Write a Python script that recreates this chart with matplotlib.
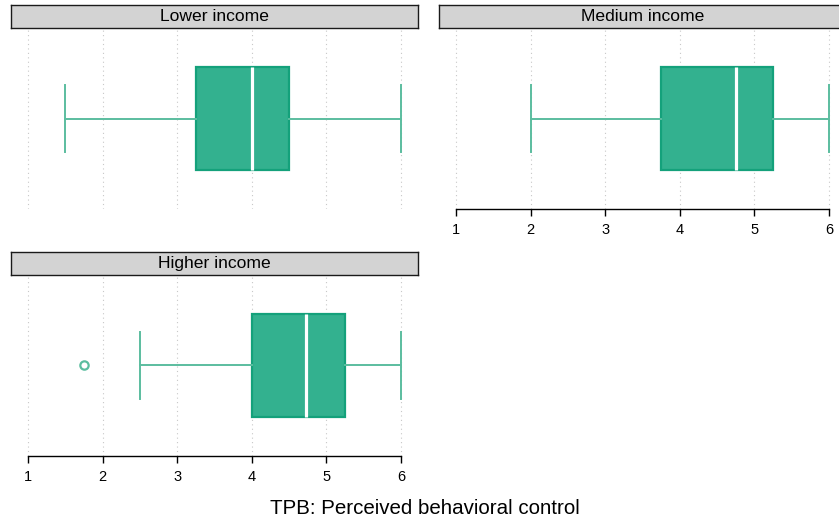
import matplotlib
matplotlib.use("Agg")
import matplotlib.pyplot as plt

plt.rcParams["font.family"] = ["Liberation Sans", "DejaVu Sans"]

# -------------------------------
# Data
# -------------------------------
panels = ["Lower income", "Medium income", "Higher income"]
whisker_low = [1.5, 2.0, 2.5]
q1 = [3.25, 3.75, 4.0]
median = [4.0, 4.75, 4.73]
q3 = [4.5, 5.25, 5.25]
whisker_high = [6.0, 6.0, 6.0]
outliers = [[], [], [1.75]]
x_ticks = [1, 2, 3, 4, 5, 6]
x_label = "TPB: Perceived behavioral control"

# -------------------------------
# Style
# -------------------------------
fill_col = "#33b18f"
edge_col = "#14a17b"
whisk_col = "#5bbd9f"

W, H = 839, 521
fig = plt.figure(figsize=(W / 100, H / 100), dpi=100)

# panel boxes in pixels: (left, top, right, bottom, draw x axis)
layout = [
    (11, 28, 418, 209, False),
    (439, 28, 846, 209, True),
    (11, 275, 418, 456, True),
]
strip_h = 23


def px_axes(l, t, r, b):
    return fig.add_axes([l / W, 1 - b / H, (r - l) / W, (b - t) / H])


for i, name in enumerate(panels):
    l, t, r, b, show_axis = layout[i]
    ax = px_axes(l, t, r, b)
    stats = [{
        "whislo": whisker_low[i], "q1": q1[i], "med": median[i],
        "q3": q3[i], "whishi": whisker_high[i], "fliers": outliers[i],
    }]
    ax.bxp(stats, positions=[1], vert=False, widths=0.68, patch_artist=True,
           showfliers=True,
           boxprops=dict(facecolor=fill_col, edgecolor=edge_col, linewidth=1.6),
           medianprops=dict(color="white", linewidth=2.3, solid_capstyle="butt"),
           whiskerprops=dict(color=whisk_col, linewidth=1.4),
           capprops=dict(color=whisk_col, linewidth=1.4),
           capwidths=0.45,
           flierprops=dict(marker="o", markerfacecolor="none",
                           markeredgecolor=whisk_col, markersize=6,
                           markeredgewidth=1.6))
    ax.set_xlim(0.77, 6.23)
    ax.set_ylim(0.4, 1.6)
    ax.set_yticks([])
    ax.set_xticks(x_ticks)
    ax.grid(axis="x", linestyle=(0, (1, 3)), color="#c8c8c8", linewidth=0.8)
    ax.set_axisbelow(True)
    for s in ["left", "right", "top"]:
        ax.spines[s].set_visible(False)
    if show_axis:
        ax.spines["bottom"].set_bounds(1, 6)
        ax.spines["bottom"].set_linewidth(1.0)
        ax.tick_params(axis="x", length=5, width=1.0, labelsize=10.5, pad=5)
    else:
        ax.spines["bottom"].set_visible(False)
        ax.tick_params(axis="x", length=0, labelbottom=False)

    # facet strip
    sax = px_axes(l, t - strip_h, r, t)
    sax.set_facecolor("#d3d3d3")
    sax.set_xticks([])
    sax.set_yticks([])
    for s in sax.spines.values():
        s.set_color("#1a1a1a")
        s.set_linewidth(1.0)
    sax.text(0.5, 0.5, name, ha="center", va="center", fontsize=12.6,
             transform=sax.transAxes)

fig.text(425 / W, 1 - 508 / H, x_label, ha="center", va="center", fontsize=14.8)

fig.savefig("out.png", dpi=100)
